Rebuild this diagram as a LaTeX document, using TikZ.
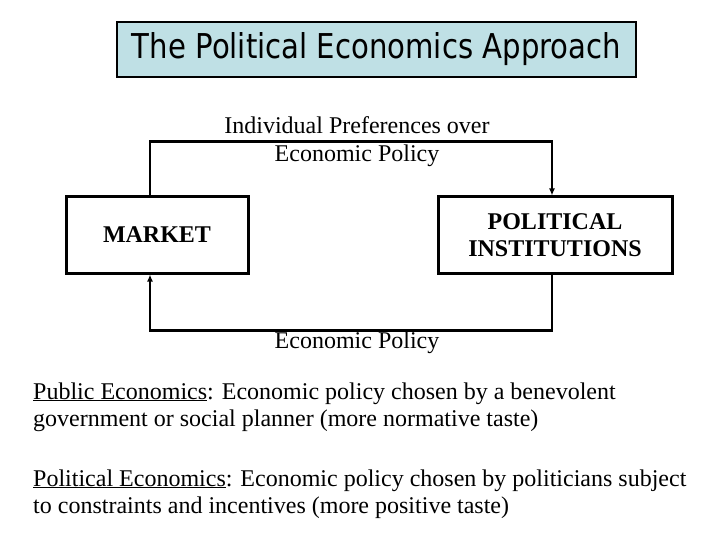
\documentclass[tikz,border=0pt]{standalone}
\usepackage{fontspec}
\setmainfont{Liberation Serif}
\newfontfamily\titlefont{DejaVu Sans}
\usetikzlibrary{arrows.meta}
\definecolor{titlefill}{RGB}{191,224,229}
\tikzset{
  titlebox/.style={draw=black, line width=1.3pt, fill=titlefill, minimum width=519pt, minimum height=55pt, inner sep=0pt},
  procbox/.style={draw=black, line width=3pt, minimum height=76pt, inner sep=0pt, align=center, font=\fontsize{24}{27}\selectfont\bfseries},
  conn/.style={line width=2.6pt, -{Latex[length=7pt,width=6pt]}},
  lbl/.style={align=center, inner sep=0pt, font=\fontsize{24}{28}\selectfont},
  body/.style={anchor=base west, inner sep=0pt, font=\fontsize{24}{27}\selectfont}
}
\begin{document}
\begin{tikzpicture}[x=1pt,y=-1pt]
\useasboundingbox[fill=white] (0,0) rectangle (720,540);
\node[titlebox] (title) at (376.5,49.5) {\resizebox{489pt}{26pt}{\titlefont The Political Economics Approach}};
\node[procbox, minimum width=182pt] (market) at (157,235) {MARKET};
\node[procbox, minimum width=234pt] (inst) at (555,235) {POLITICAL\\INSTITUTIONS};
\draw[conn] ([xshift=-7pt]market.north) -- ++(0,-54) coordinate (tl) -| ([xshift=-3pt]inst.north);
\draw[conn] ([xshift=-3pt]inst.south) -- ++(0,56) coordinate (br) -| ([xshift=-7pt]market.south);
\node[lbl] (pref) at (357,142) {Individual Preferences over\\Economic Policy};
\node[lbl] (pol) at (357,343) {Economic Policy};
\node[body] (p1) at (33,399) {\underline{Public Economics}: Economic policy chosen by a benevolent};
\node[body] (p2) at (33,426) {government or social planner (more normative taste)};
\node[body] (p3) at (33,486) {\underline{Political Economics}: Economic policy chosen by politicians subject};
\node[body] (p4) at (33,513) {to constraints and incentives (more positive taste)};
\end{tikzpicture}
\end{document}
